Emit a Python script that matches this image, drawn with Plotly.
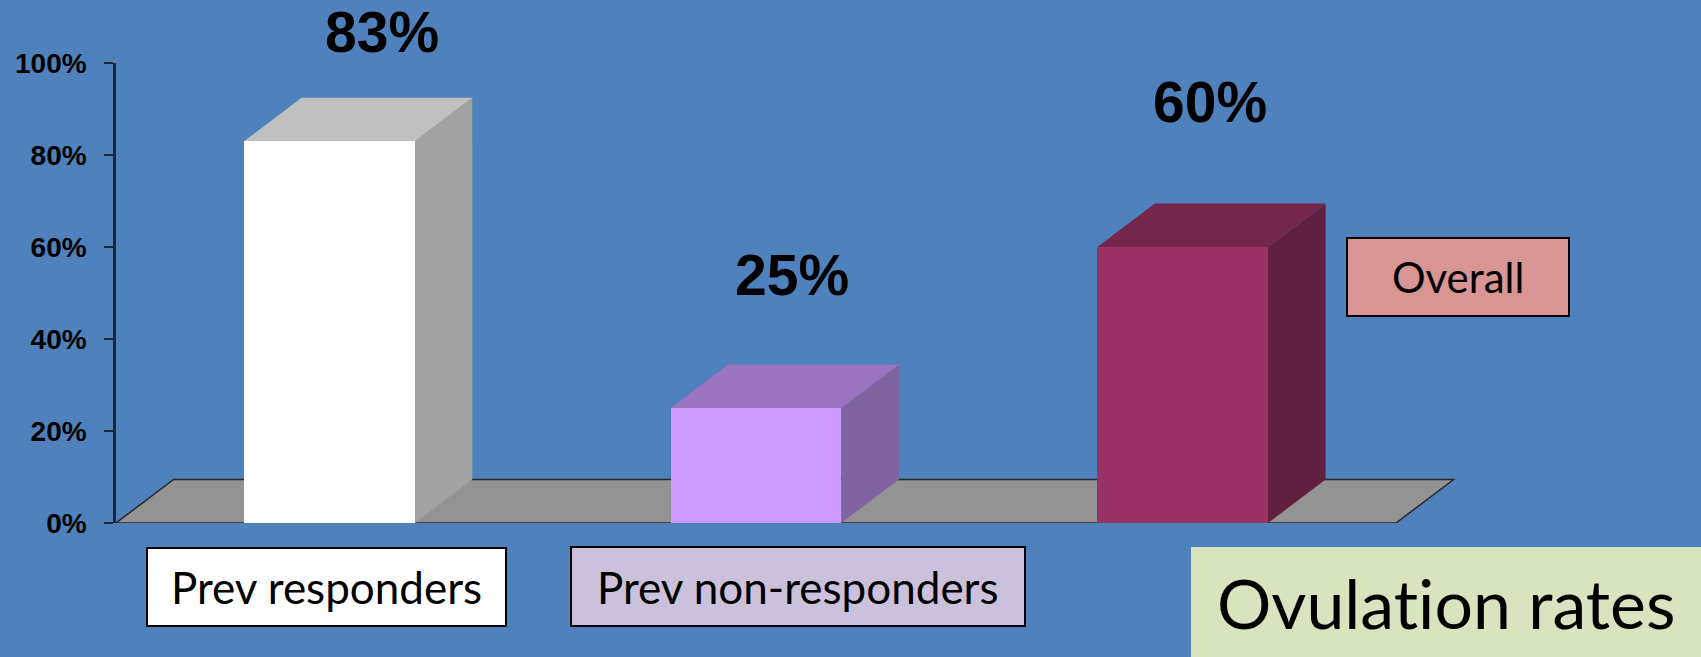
import plotly.graph_objects as go

# Ovulation rates by group
categories = ["Prev responders", "Prev non-responders", "Overall"]
values = [83, 25, 60]
y_ticks = [0, 20, 40, 60, 80, 100]
y_tick_text = [f"{t}%" for t in y_ticks]

# Face colours per bar: front, top, side
front_colors = ["#FFFFFF", "#CC99FF", "#993366"]
top_colors = ["#C0C0C0", "#9B74C1", "#74264D"]
side_colors = ["#A2A2A2", "#8064A2", "#612040"]

# Category caption boxes: fill
caption_fill = ["#FFFFFF", "#CCC1DA", "#D99594"]

BG = "#4F81BD"
W, H = 1701, 657
ML, MR, MT, MB = 116, 241, 63, 134
X_RANGE = [-0.5, 2.65]
BAR_W = 0.4
DX, DY = 0.135, 9.46  # 3-D depth offset in data units

plot_w = W - ML - MR
plot_h = H - MT - MB


def px_x(px):
    return (px - ML) / plot_w


def px_y(py):
    return (H - MB - py) / plot_h


fig = go.Figure()

# front faces of the bars
fig.add_trace(go.Bar(
    x=list(range(len(values))), y=values, width=BAR_W,
    marker=dict(color=front_colors, line=dict(width=0)),
    hoverinfo="skip", showlegend=False,
))

shapes = []
# floor
shapes.append(dict(
    type="path", xref="x", yref="y", layer="below",
    path=f"M {-0.5} 0 L 2.5 0 L {2.5 + DX} {DY} L {-0.5 + DX} {DY} Z",
    fillcolor="#939393", line=dict(color="#2a2a2a", width=1.5),
))
# top and side faces
for i, v in enumerate(values):
    x0, x1 = i - BAR_W / 2, i + BAR_W / 2
    shapes.append(dict(
        type="path", xref="x", yref="y", layer="below",
        path=f"M {x1} 0 L {x1 + DX} {DY} L {x1 + DX} {v + DY} L {x1} {v} Z",
        fillcolor=side_colors[i], line=dict(width=0),
    ))
    shapes.append(dict(
        type="path", xref="x", yref="y", layer="below",
        path=f"M {x0} {v} L {x0 + DX} {v + DY} L {x1 + DX} {v + DY} L {x1} {v} Z",
        fillcolor=top_colors[i], line=dict(width=0),
    ))

annotations = []
# value labels above the bars
label_shift = [(53, 109), (36, 133), (27, 145)]
for i, v in enumerate(values):
    annotations.append(dict(
        x=i, y=v, xref="x", yref="y", text=f"{v}%", showarrow=False,
        xshift=label_shift[i][0], yshift=label_shift[i][1],
        xanchor="center", yanchor="middle",
        font=dict(family="Liberation Sans", size=57, color="black", weight="bold"),
    ))

# caption boxes (pixel extents)
caption_boxes = [(147, 548, 506, 626), (571, 547, 1025, 626), (1347, 238, 1569, 316)]
caption_size = [44, 44, 42]
for i, (x0, y0, x1, y1) in enumerate(caption_boxes):
    shapes.append(dict(
        type="rect", xref="paper", yref="paper", layer="above",
        x0=px_x(x0), x1=px_x(x1), y0=px_y(y1), y1=px_y(y0),
        fillcolor=caption_fill[i], line=dict(color="black", width=2),
    ))
    annotations.append(dict(
        x=px_x((x0 + x1) / 2), y=px_y((y0 + y1) / 2), xref="paper", yref="paper",
        text=categories[i], showarrow=False, xanchor="center", yanchor="middle",
        font=dict(family="Lato", size=caption_size[i], color="black"),
    ))

# title box
shapes.append(dict(
    type="rect", xref="paper", yref="paper", layer="above",
    x0=px_x(1191), x1=px_x(1701), y0=px_y(657), y1=px_y(547),
    fillcolor="#D7E4BD", line=dict(width=0),
))
annotations.append(dict(
    x=px_x(1446), y=px_y(602), xref="paper", yref="paper",
    # zero-width non-joiner keeps "t" and "i" as separate glyphs
    text="Ovulat\u200cion rates", showarrow=False, xanchor="center", yanchor="middle",
    font=dict(family="Lato", size=68, color="black"),
))

fig.update_layout(
    width=W, height=H,
    margin=dict(l=ML, r=MR, t=MT, b=MB, autoexpand=False),
    paper_bgcolor=BG, plot_bgcolor=BG,
    shapes=shapes, annotations=annotations,
    xaxis=dict(range=X_RANGE, showticklabels=False, showgrid=False,
               zeroline=False, showline=False, ticks=""),
    yaxis=dict(range=[0, 100], tickmode="array", tickvals=y_ticks,
               ticktext=y_tick_text,
               showgrid=False, zeroline=False, showline=True,
               linecolor="#1c2838", linewidth=2.5,
               ticks="outside", ticklen=9, tickwidth=2, tickcolor="#1c2838",
               ticklabelstandoff=12,
               tickfont=dict(family="Liberation Sans", size=28, color="black",
                             weight="bold")),
    bargap=0,
)

fig.write_html("out.html")
